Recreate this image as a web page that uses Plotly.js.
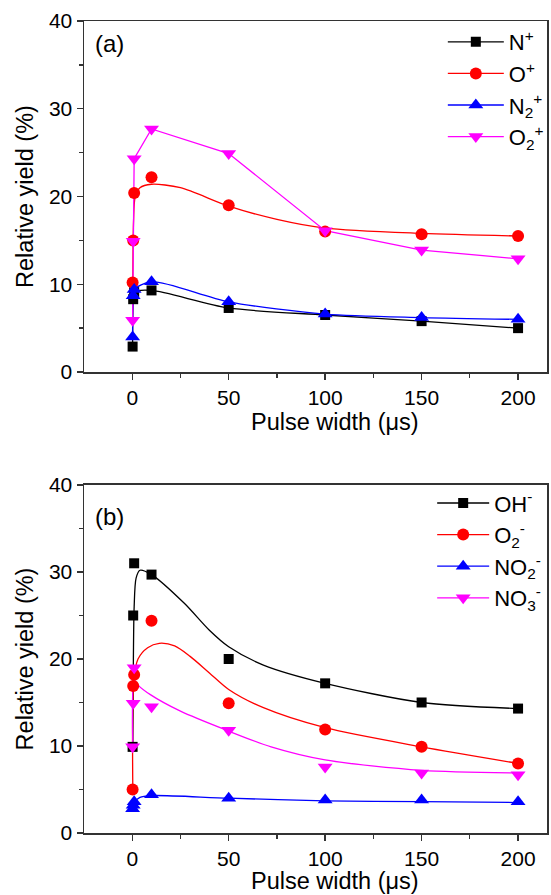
<!DOCTYPE html>
<html>
<head>
<meta charset="utf-8">
<script src="https://cdn.plot.ly/plotly-3.0.1.min.js"></script>
<style>html,body{margin:0;padding:0;background:#fff;}#chart{width:551px;height:895px;}</style>
</head>
<body>
<div id="chart"></div>
<script>
// ---------- Panel (a): positive ions ----------
const xA = [0.2, 0.5, 1, 10, 50, 100, 150, 200];
const nPlus  = [2.9, 8.3, 9.1, 9.3, 7.3, 6.5, 5.8, 5.0];
const oPlus  = [10.2, 15.0, 20.4, 22.2, 19.0, 16.0, 15.7, 15.5];
const n2Plus = [4.0, 8.7, 9.4, 10.3, 8.0, 6.6, 6.2, 6.0];
const o2Plus = [5.9, 14.9, 24.3, 27.7, 24.9, 16.1, 13.9, 12.9];
// fitted curve of O+
const oPlusFitX = [0.3, 0.7, 1.5, 4, 10, 25, 50, 75, 100, 150, 200];
const oPlusFitY = [10.5, 17.3, 19.9, 21.0, 21.4, 21.0, 18.9, 17.4, 16.4, 15.8, 15.5];

// ---------- Panel (b): negative ions ----------
const xB = [0.2, 0.5, 1, 10, 50, 100, 150, 200];
const ohMinus  = [9.9, 25.0, 31.0, 29.7, 20.0, 17.2, 15.0, 14.3];
const o2Minus  = [5.0, 16.9, 18.2, 24.4, 14.9, 11.9, 9.9, 8.0];
const no2Minus = [2.8, 3.2, 3.6, 4.4, 4.0, 3.8, 3.8, 3.6];
const no3Minus = [9.9, 14.9, 19.0, 14.5, 11.8, 7.6, 6.9, 6.7];
// fitted curves
const ohFitX  = [0.3, 0.6, 1, 2, 4, 10, 27, 40, 50, 68, 100, 150, 200];
const ohFitY  = [10, 20, 26, 29.3, 30.2, 29.7, 26.4, 23.3, 21.4, 19.3, 17.2, 15.0, 14.3];
const o2FitX  = [0.3, 0.8, 3, 8, 14, 22, 30, 40, 50, 68, 100, 150, 200];
const o2FitY  = [5, 17.5, 20.0, 21.3, 21.8, 21.5, 20.3, 18.4, 16.5, 14.4, 12.1, 9.9, 8.0];
const no2FitX = [0.3, 1, 4, 10, 50, 100, 150, 200];
const no2FitY = [2.8, 3.5, 4.1, 4.3, 4.0, 3.7, 3.6, 3.5];
const no3FitX = [0.3, 1, 3, 9.4, 25, 49, 72, 100, 150, 200];
const no3FitY = [10, 17.6, 17.0, 15.9, 14.0, 11.8, 9.9, 8.4, 7.2, 6.9];

const labelsA = ['N<sup>+</sup>', 'O<sup>+</sup>', 'N<sub>2</sub><sup>+</sup>', 'O<sub>2</sub><sup>+</sup>'];
const labelsB = ['OH<sup>-</sup>', 'O<sub>2</sub><sup>-</sup>', 'NO<sub>2</sub><sup>-</sup>', 'NO<sub>3</sub><sup>-</sup>'];
const xTickVals = [0, 50, 100, 150, 200];
const yTickVals = [0, 10, 20, 30, 40];

const colors = ['#000000', '#ff0000', '#0000ff', '#ff00ff'];
const symbols = ['square', 'circle', 'triangle-up', 'triangle-down'];
const msize = [10, 12, 13, 13];
const LW = 1.3;

const traces = [];
function legendEntry(i, name, xa, ya, leg) {
  traces.push({x: [null], y: [null], xaxis: xa, yaxis: ya, legend: leg, name: name, mode: 'lines+markers',
    line: {color: colors[i], width: LW}, marker: {symbol: symbols[i], size: msize[i], color: colors[i]}});
}
function curve(i, x, y, xa, ya, shape) {
  traces.push({x: x, y: y, xaxis: xa, yaxis: ya, mode: 'lines', showlegend: false, hoverinfo: 'skip',
    line: {color: colors[i], width: LW, shape: shape || 'spline', smoothing: 0.8}});
}
function points(i, x, y, xa, ya) {
  traces.push({x: x, y: y, xaxis: xa, yaxis: ya, mode: 'markers', showlegend: false,
    marker: {symbol: symbols[i], size: msize[i], color: colors[i]}});
}

// Panel (a)
curve(0, xA, nPlus, 'x', 'y');
curve(1, oPlusFitX, oPlusFitY, 'x', 'y');
curve(2, xA, n2Plus, 'x', 'y');
curve(3, xA, o2Plus, 'x', 'y', 'linear');
points(0, xA, nPlus, 'x', 'y');
points(1, xA, oPlus, 'x', 'y');
points(2, xA, n2Plus, 'x', 'y');
points(3, xA, o2Plus, 'x', 'y');
for (let i = 0; i < 4; i++) legendEntry(i, labelsA[i], 'x', 'y', 'legend');

// Panel (b)
curve(0, ohFitX, ohFitY, 'x2', 'y2');
curve(1, o2FitX, o2FitY, 'x2', 'y2');
curve(2, no2FitX, no2FitY, 'x2', 'y2');
curve(3, no3FitX, no3FitY, 'x2', 'y2');
points(0, xB, ohMinus, 'x2', 'y2');
points(1, xB, o2Minus, 'x2', 'y2');
points(2, xB, no2Minus, 'x2', 'y2');
points(3, xB, no3Minus, 'x2', 'y2');
for (let i = 0; i < 4; i++) legendEntry(i, labelsB[i], 'x2', 'y2', 'legend2');

const font = {family: 'Liberation Sans, Arial, sans-serif', color: '#000'};
function xaxis(anchor) {
  return {anchor: anchor, domain: [0, 1], range: [-25, 215], tickvals: xTickVals,
    ticks: 'outside', ticklen: 6, tickwidth: 1.3, tickcolor: '#333',
    minor: {tickvals: [25, 75, 125, 175], ticks: 'outside', ticklen: 4, tickwidth: 1.3, tickcolor: '#333'},
    showline: true, linecolor: '#333', linewidth: 1.5, mirror: true, showgrid: false, zeroline: false,
    tickfont: {size: 21, ...font}};
}
function yaxis(anchor, dom) {
  return {anchor: anchor, domain: dom, range: [0, 40], tickvals: yTickVals,
    ticks: 'outside', ticklen: 6, tickwidth: 1.3, tickcolor: '#333',
    minor: {tickvals: [5, 15, 25, 35], ticks: 'outside', ticklen: 4, tickwidth: 1.3, tickcolor: '#333'},
    showline: true, linecolor: '#333', linewidth: 1.5, mirror: true, showgrid: false, zeroline: false,
    tickfont: {size: 21, ...font},
    title: {text: 'Relative yield (%)', font: {size: 23.5, ...font}, standoff: 8}};
}

const layout = {
  width: 551, height: 895,
  margin: {l: 84, r: 2, t: 21, b: 62},
  paper_bgcolor: '#fff', plot_bgcolor: '#fff',
  showlegend: true,
  xaxis: xaxis('y'),
  yaxis: yaxis('x', [0.5677, 1]),
  xaxis2: xaxis('y2'),
  yaxis2: yaxis('x2', [0, 0.4286]),
  legend: {x: 0.775, y: 1.0, xanchor: 'left', yanchor: 'top', bgcolor: 'rgba(0,0,0,0)',
    font: {size: 22, ...font}, itemwidth: 56, tracegroupgap: 0},
  legend2: {x: 0.752, y: 0.432, xanchor: 'left', yanchor: 'top', bgcolor: 'rgba(0,0,0,0)',
    font: {size: 22, ...font}, itemwidth: 52, tracegroupgap: 0},
  annotations: [
    {text: '(a)', xref: 'x domain', yref: 'y domain', x: 0.02, y: 0.935, xanchor: 'left', yanchor: 'middle',
      showarrow: false, font: {size: 24, ...font}},
    {text: '(b)', xref: 'x2 domain', yref: 'y2 domain', x: 0.02, y: 0.91, xanchor: 'left', yanchor: 'middle',
      showarrow: false, font: {size: 24, ...font}},
    {text: 'Pulse width (μs)', xref: 'x domain', yref: 'y domain', x: 0.542, y: -0.142, xanchor: 'center', yanchor: 'middle',
      showarrow: false, font: {size: 23.5, ...font}},
    {text: 'Pulse width (μs)', xref: 'x2 domain', yref: 'y2 domain', x: 0.542, y: -0.138, xanchor: 'center', yanchor: 'middle',
      showarrow: false, font: {size: 23.5, ...font}}
  ]
};

Plotly.newPlot('chart', traces, layout, {displayModeBar: false, staticPlot: true});
</script>
</body>
</html>
